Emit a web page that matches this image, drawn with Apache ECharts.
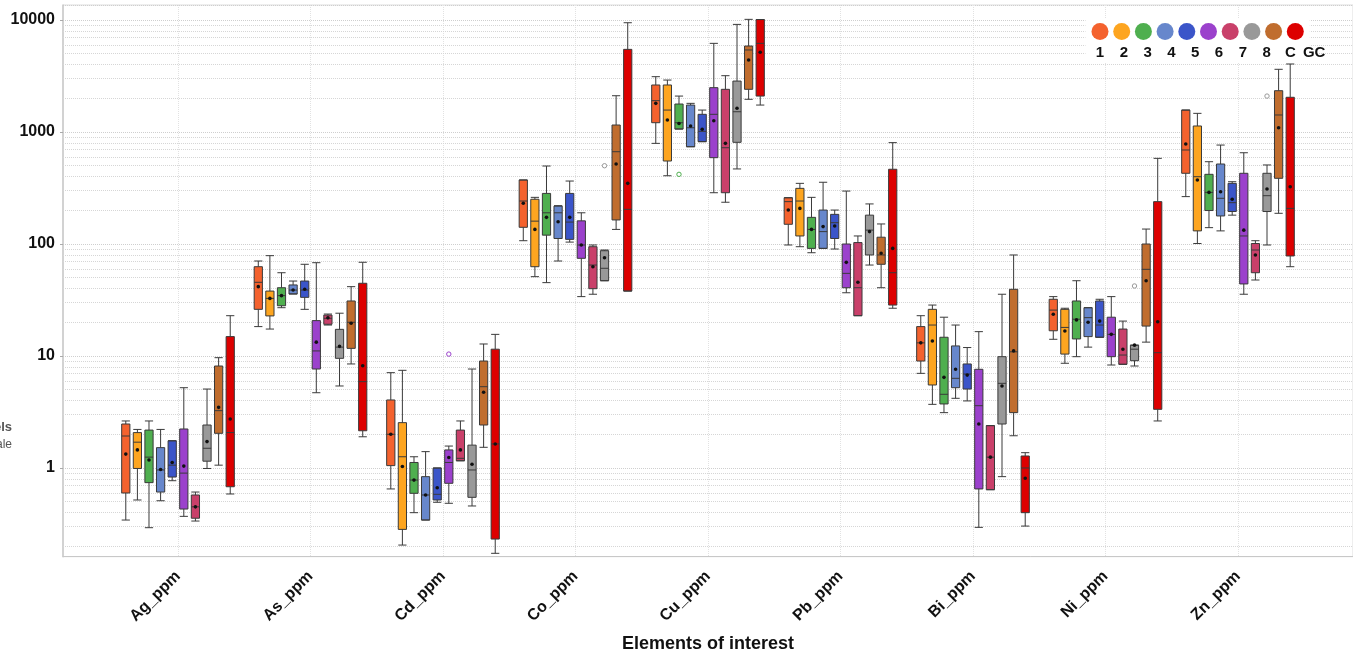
<!DOCTYPE html>
<html>
<head>
<meta charset="utf-8">
<script src="https://cdn.jsdelivr.net/npm/echarts@6/dist/echarts.min.js"></script>
<style>
html,body{margin:0;padding:0;background:#fff;}
#chart{width:1353px;height:656px;}
</style>
</head>
<body>
<div id="chart"></div>
<script>
// ---- categories / groups ----
const categories = ['Ag_ppm','As_ppm','Cd_ppm','Co_ppm','Cu_ppm','Pb_ppm','Bi_ppm','Ni_ppm','Zn_ppm'];
const groupNames = ['1','2','3','4','5','6','7','8','C','GC'];
const groupColors = ['#F4622E','#FDA520','#4FAF4F','#6787CC','#3B55C9','#9B41CC','#C9406A','#999999','#C06D2E','#DD0000'];

// ---- box statistics per group: [min, Q1, median, Q3, max] for each element ----
const box_1 = [[0.343,0.598,1.93,2.47,2.63],[18.3,26.1,45.5,62.7,70.5],[0.65,1.05,2.0,4.05,7.10],[107,141,242,373,373],[792,1211,1905,2630,3120],[98,150,239,259,259],[7.0,9.02,13.1,18.3,22.9],[14.1,16.8,25.7,32.1,33.9],[265,428,691,1571,1571]];
const box_2 = [[0.518,0.99,1.70,2.07,2.21],[17.4,22.8,32.7,38.0,78.7],[0.205,0.283,1.26,2.54,7.45],[51.1,62.7,160,251,261],[407,551,1571,2630,2911],[94.6,118,242,314,348],[3.7,5.51,18.9,26.1,28.5],[8.61,10.4,18.0,26.1,26.7],[101,131,399,1132,1468]];
const box_3 = [[0.293,0.74,1.25,2.18,2.63],[27.0,28.1,34.6,40.7,55.4],[0.399,0.594,0.78,1.12,1.26],[45.2,120,190,283,497],[1063,1063,1211,1778,2094],[83.6,91.4,135,173,261],[3.12,3.73,4.55,14.7,22.2],[9.86,14.2,21.3,31,47],[140,199,289,419,543]];
const box_4 = [[0.51,0.61,0.96,1.52,2.21],[35.8,35.8,38.8,43.1,46.7],[0.343,0.343,0.574,0.837,1.40],[70.5,112,190,218,220],[739,739,1092,1741,1803],[91.4,91.4,129,201,356],[4.19,5.21,6.32,12.3,18.9],[12.0,14.9,22.0,27.0,27.0],[131,178,256,518,765]];
const box_5 = [[0.77,0.83,1.06,1.75,1.75],[26.1,33.4,38.8,46.7,65.9],[0.494,0.518,0.582,1.0,1.0],[104,110,157,283,365],[820,820,1014,1439,1571],[90.2,112,155,184,201],[3.97,5.07,6.9,8.49,11.9],[14.7,14.7,18.9,31,32.1],[181,195,234,348,360]];
const box_6 = [[0.37,0.43,0.90,2.23,5.21],[4.70,7.65,11.1,20.7,68.1],[0.484,0.73,1.12,1.45,1.57],[33.9,74.5,98,161,190],[287,590,1439,2489,6190],[36.7,40.7,54.7,100,297],[0.295,0.65,3.6,7.61,16.5],[8.31,9.86,15.6,22.2,33.9],[35.6,44.0,118,428,653]];
const box_7 = [[0.336,0.356,0.45,0.574,0.61],[18.9,19.2,21.7,23.2,23.7],[1.16,1.16,1.22,2.18,2.63],[35.6,39.9,64.9,94.6,98],[236,287,724,2406,3184],[22.9,22.9,40.7,103,118],[0.64,0.64,1.25,2.39,2.39],[8.43,8.43,10.2,17.4,20.5],[47.7,55.4,88.4,101,107]];
const box_8 = [[0.99,1.15,1.50,2.42,5.07],[5.40,9.53,12.0,17.3,24.1],[0.458,0.547,0.96,1.60,7.65],[47.0,47.0,60.7,87.1,88.4],[468,809,1517,2851,9140],[64.9,79.8,133,181,228],[0.837,2.47,5.70,9.86,35.6],[8.14,9.08,11.5,12.5,12.5],[98,195,270,428,508]];
const box_C = [[1.06,2.04,3.25,8.14,9.66],[8.49,11.7,20.0,31.0,41.6],[1.53,2.42,5.32,9.02,12.8],[135,164,667,1155,2109],[1959,2406,5400,5860,10140],[40.7,65.9,79.8,115,151],[1.94,3.12,10.9,39.4,79.8],[13.3,18.5,59.4,100,136],[188,386,1419,2339,3631]];
const box_GC = [[0.586,0.68,2.07,14.9,22.9],[1.90,2.15,5.90,44.6,68.7],[0.173,0.232,1.64,11.5,15.6],[38.0,38.0,204,5470,9460],[1741,2094,6190,10100,10100],[26.7,28.5,55.4,465,804],[0.303,0.399,1.0,1.28,1.37],[2.63,3.34,10.7,239,582],[62.7,78.2,208,2042,4050]];

// ---- means per group (one per element) ----
const mean_1 = [1.33,41.6,2.0,231,1803,201,13.1,23.6,781];
const mean_2 = [1.45,32.7,1.03,135,1280,208,13.6,16.7,373];
const mean_3 = [1.18,34.6,0.78,173,1193,135,6.45,21.0,289];
const mean_4 = [0.97,38.8,0.574,158,1132,143,7.61,20.0,293];
const mean_5 = [1.12,39.4,0.667,173,1057,145,6.75,20.5,251];
const mean_6 = [1.04,13.3,1.24,98,1262,68.6,2.47,15.6,133];
const mean_7 = [0.45,21.9,1.45,62.7,792,45.5,1.25,11.5,79.8];
const mean_8 = [1.72,12.2,1.08,75.5,1629,129,5.40,12.5,310];
const mean_C = [3.48,19.6,4.74,518,4400,82.6,11.1,47.0,1092];
const mean_GC = [2.74,8.19,1.64,348,5150,91.4,0.81,20.2,325];

// ---- outliers: [elementIndex, groupIndex, value] ----
const outliers = [[2,5,10.4],[3,7,500],[4,2,419],[7,7,42.2],[8,7,2094]];

// ---- axis settings ----
const yMin = 0.1614, yMax = 13620;
const minorMultipliers = [2,3,4,5,6,7,8,9];
const decades = [0.1,1,10,100,1000];

const boxes = [box_1,box_2,box_3,box_4,box_5,box_6,box_7,box_8,box_C,box_GC];
const means = [mean_1,mean_2,mean_3,mean_4,mean_5,mean_6,mean_7,mean_8,mean_C,mean_GC];

const minorLines = [];
decades.forEach(d => minorMultipliers.forEach(m => {
  const v = +(d * m).toPrecision(3);
  if (v > yMin && v < yMax) minorLines.push({yAxis: v});
}));

const FONT = 'Liberation Sans, Arial, Helvetica, sans-serif';
const catIdx = categories.map((c, i) => i);

function groupOffset(width, j) {
  const band = width / categories.length;
  const avail = band * 0.8 - 2;
  const gap = avail / groupNames.length * 0.3;
  const w = (avail - gap * (groupNames.length - 1)) / groupNames.length;
  return w / 2 - avail / 2 + j * (gap + w);
}

const series = boxes.map((b, j) => ({
  name: groupNames[j],
  type: 'boxplot',
  z: 2,
  data: b.map((s, i) => [i].concat(s)),
  itemStyle: { color: groupColors[j], borderColor: '#3a3a3a', borderWidth: 1 },
  emphasis: { disabled: true },
  silent: true,
  markLine: j === 0 ? {
    silent: true, symbol: 'none', z: 1,
    label: { show: false },
    lineStyle: { color: '#d6d6d6', type: 'dotted', width: 1 },
    data: minorLines
  } : undefined
}));

const meanData = [];
means.forEach((m, j) => m.forEach((v, i) => meanData.push([i, j, v])));

series.push({
  name: 'mean', type: 'custom', z: 4, silent: true,
  encode: { x: 0, y: 2 },
  data: meanData,
  renderItem: function (params, api) {
    const p = api.coord([api.value(0), api.value(2)]);
    const off = groupOffset(params.coordSys.width, api.value(1));
    return { type: 'circle', shape: { cx: p[0] + off, cy: p[1], r: 1.8 }, style: { fill: '#111' } };
  }
});
series.push({
  name: 'outlier', type: 'custom', z: 4, silent: true,
  encode: { x: 0, y: 2 },
  data: outliers,
  renderItem: function (params, api) {
    const p = api.coord([api.value(0), api.value(2)]);
    const j = api.value(1);
    const off = groupOffset(params.coordSys.width, j);
    return { type: 'circle', shape: { cx: p[0] + off, cy: p[1], r: 2.2 }, style: { fill: '#fff', stroke: groupColors[j], lineWidth: 1 } };
  }
});

const legendLeft = 1085.5;
const legendStep = 23.8;
const legendLabels = groupNames.map((n, i) => ({
  type: 'text', z: 100,
  x: legendLeft + 6 + 8.5 + i * legendStep, y: 53,
  style: { text: n, fill: '#111', font: 'bold 15px ' + FONT, align: 'center', verticalAlign: 'middle' }
}));

const chart = echarts.init(document.getElementById('chart'), null, { renderer: 'canvas' });
chart.setOption({
  animation: false,
  backgroundColor: '#fff',
  grid: { left: 63, right: 0, top: 5, bottom: 99.3, show: true, borderColor: '#dcdcdc', borderWidth: 1, containLabel: false, outerBoundsMode: 'none' },
  legend: {
    data: groupNames.map((n, i) => ({ name: n, itemStyle: { color: groupColors[i], borderWidth: 0 } })),
    left: legendLeft, top: 18,
    orient: 'horizontal',
    icon: 'circle', itemWidth: 17, itemHeight: 17, itemGap: 4.7,
    formatter: function () { return ''; },
    backgroundColor: '#fff',
    padding: [5, 6, 22, 6],
    selectedMode: false,
    z: 50
  },
  xAxis: {
    type: 'value',
    min: -0.868, max: 8.868,
    axisLine: { show: true, onZero: false, lineStyle: { color: '#c8c8c8', width: 1 } },
    axisTick: { show: false, customValues: catIdx },
    splitLine: { show: true, lineStyle: { color: '#e2e2e2', type: 'dotted', width: 1 } },
    axisLabel: {
      customValues: catIdx,
      formatter: function (v) { return categories[Math.round(v)]; },
      rotate: 45, margin: 17,
      fontFamily: FONT, fontWeight: 'bold', fontSize: 16, color: '#111'
    },
    name: 'Elements of interest',
    nameLocation: 'middle', nameGap: 78,
    nameTextStyle: { fontFamily: FONT, fontWeight: 'bold', fontSize: 18, color: '#111' }
  },
  yAxis: {
    type: 'log', logBase: 10,
    min: yMin, max: yMax,
    axisLine: { show: true, onZero: false, lineStyle: { color: '#c8c8c8', width: 1.5 } },
    axisTick: { show: true, length: 3, lineStyle: { color: '#aaa' } },
    splitLine: { show: true, lineStyle: { color: '#cfcfcf', type: 'dotted', width: 1 } },
    axisLabel: {
      showMinLabel: false, showMaxLabel: false, margin: 8,
      formatter: function (v) { return String(Math.round(v)); },
      fontFamily: FONT, fontWeight: 'bold', fontSize: 16, color: '#111'
    }
  },
  graphic: legendLabels.concat([
    { type: 'text', x: 12, y: 427, style: { text: 'levels', fill: '#555', font: 'bold 13px ' + FONT, align: 'right', verticalAlign: 'middle' } },
    { type: 'text', x: 12, y: 445, style: { text: 'Log scale', fill: '#555', font: '12px ' + FONT, align: 'right', verticalAlign: 'middle' } }
  ]),
  series: series
});
</script>
</body>
</html>
